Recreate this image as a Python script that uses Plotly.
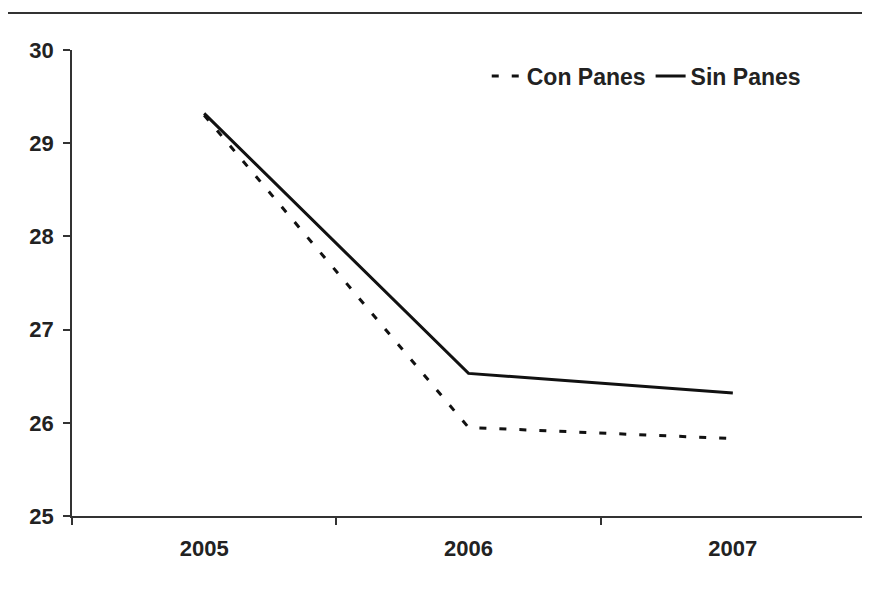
import plotly.graph_objects as go

years = ["2005", "2006", "2007"]
con_panes = [29.30, 25.95, 25.83]
sin_panes = [29.32, 26.53, 26.32]
y_ticks = [25, 26, 27, 28, 29, 30]

FONT = dict(family="Liberation Sans, Arial, sans-serif", size=22, color="#222222", weight="bold")
LFONT = dict(FONT, size=23)
AX = "#333333"

fig = go.Figure()
fig.add_trace(go.Scatter(x=years, y=con_panes, mode="lines", name="Con Panes",
                         line=dict(color="#111111", width=3, dash="7px,13px")))
fig.add_trace(go.Scatter(x=years, y=sin_panes, mode="lines", name="Sin Panes",
                         line=dict(color="#111111", width=3)))

# page body has an 8px margin, so the figure is sized/offset to compensate
fig.update_layout(
    width=862, height=600,
    margin=dict(l=64, r=5, t=42, b=92),
    paper_bgcolor="white", plot_bgcolor="white",
    font=FONT,
    showlegend=True,
    legend=dict(orientation="h", x=0.523, y=0.99, xanchor="left", yanchor="top",
                bgcolor="rgba(0,0,0,0)", font=LFONT, itemwidth=30, tracegroupgap=0),
    xaxis=dict(type="category", range=[-0.5, 2.5], tickson="boundaries",
               showline=True, linecolor=AX, linewidth=1.5, ticks="outside",
               ticklen=7, tickcolor=AX, tickwidth=1.5, showgrid=False, zeroline=False,
               ticklabelstandoff=12, tickfont=FONT),
    yaxis=dict(range=[25, 30], tickvals=y_ticks, showline=True, linecolor=AX, linewidth=1.5,
               ticks="outside", ticklen=7, tickcolor=AX, tickwidth=1.5, showgrid=False,
               zeroline=False, ticklabelstandoff=5, tickfont=FONT),
    shapes=[dict(type="line", xref="paper", yref="paper", x0=-0.1, x1=1.01,
                 y0=1.0794, y1=1.0794, line=dict(color="#333333", width=2))],
)

fig.write_html("out.html")
